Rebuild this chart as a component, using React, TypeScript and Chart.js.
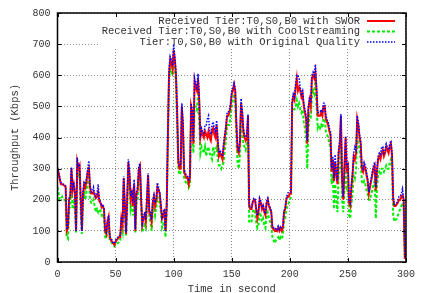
import React, { useEffect, useRef } from 'react';
import { Chart, registerables } from 'chart.js';
Chart.register(...registerables);

// Time axis: seconds 0..299
const xTicks = [0, 50, 100, 150, 200, 250, 300];
const yTicks = [0, 100, 200, 300, 400, 500, 600, 700, 800];

const legendLabels = [
  'Received Tier:T0,S0,B0 with SWOR',
  'Received Tier:T0,S0,B0 with CoolStreaming',
  'Tier:T0,S0,B0 with Original Quality',
];

const swor = [
  300,285,265,250,250,248,245,240,100,110,
  200,210,300,230,250,220,100,320,300,310,
  200,100,220,250,240,260,290,300,240,220,
  220,225,215,205,210,225,195,190,175,180,
  170,100,90,130,145,80,70,65,60,55,
  65,70,75,80,80,140,120,270,180,90,
  200,320,280,200,220,180,250,100,220,230,
  300,310,200,120,140,150,130,200,280,160,
  150,130,190,210,180,200,240,230,220,180,
  140,150,160,100,180,400,600,650,640,620,
  680,650,600,480,320,300,300,500,440,290,
  280,270,270,250,270,500,480,380,580,560,
  550,590,520,400,420,410,400,420,410,400,
  420,400,390,420,430,410,400,440,380,340,
  350,340,330,370,400,430,470,470,480,500,
  540,550,570,550,440,360,350,380,510,480,
  420,400,390,400,470,180,170,170,190,200,
  200,170,140,160,200,190,170,180,160,150,
  190,200,180,170,160,110,105,100,105,100,
  110,100,110,100,110,160,170,200,210,210,
  220,220,510,530,520,560,590,550,560,550,
  530,540,500,480,460,380,490,520,500,590,
  600,590,610,550,470,470,470,480,470,500,
  500,460,450,440,420,410,290,330,260,320,
  280,250,350,380,470,260,200,300,400,300,
  310,190,180,240,280,340,330,350,460,440,
  400,380,300,290,310,300,280,260,220,240,
  260,280,300,310,230,290,330,340,330,350,
  360,340,350,370,360,350,370,380,340,200,
  180,180,185,190,200,200,210,215,200,10,
];

const coolStreaming = [
  240,220,200,205,210,200,200,195,80,75,
  170,180,280,170,200,160,95,300,280,290,
  160,90,200,220,200,230,260,280,200,190,
  190,200,180,160,170,160,170,165,150,155,
  140,80,75,100,120,70,65,60,55,50,
  55,60,60,65,70,120,100,250,160,85,
  180,300,250,170,190,150,220,95,190,200,
  280,290,170,95,110,120,110,170,260,140,
  130,100,160,180,150,175,210,200,190,160,
  110,120,130,80,150,380,580,620,610,600,
  640,620,570,440,300,280,290,480,400,270,
  260,250,255,240,250,470,420,350,500,500,
  490,540,450,350,370,360,350,370,340,360,
  370,350,340,330,370,350,360,370,330,310,
  310,300,310,320,360,390,440,440,440,470,
  500,520,540,510,400,320,300,340,460,430,
  380,370,360,380,440,130,125,130,160,170,
  160,130,110,120,160,150,130,140,120,110,
  150,160,140,130,120,80,70,60,70,75,
  80,70,80,75,85,130,140,170,180,190,
  200,210,480,490,490,500,520,500,510,490,
  480,490,450,430,400,300,430,470,460,530,
  550,540,580,500,430,440,430,440,430,460,
  460,420,410,400,380,370,250,280,170,250,
  200,160,280,300,400,200,160,230,320,240,
  250,150,140,190,220,280,270,300,400,380,
  360,330,260,250,260,250,230,220,200,200,
  220,230,250,260,140,240,280,290,280,300,
  300,290,300,310,300,300,320,330,300,150,
  130,135,140,150,160,170,180,190,170,20,
];

const original = [
  305,290,270,255,252,250,248,245,105,115,
  205,215,305,240,255,225,100,335,310,315,
  205,100,230,260,250,270,300,325,250,225,
  225,240,220,210,220,250,200,195,180,185,
  175,100,95,130,150,85,75,70,60,60,
  70,75,80,85,85,145,125,275,185,95,
  205,330,290,210,230,190,265,105,230,240,
  310,315,210,125,145,160,135,210,285,165,
  160,135,200,215,190,205,255,240,225,185,
  145,160,170,100,190,420,620,660,650,630,
  700,660,610,490,330,310,310,510,450,300,
  285,280,275,260,280,510,490,390,590,570,
  560,605,530,410,430,420,410,440,440,460,
  470,420,410,440,450,430,420,455,400,350,
  360,350,340,380,410,440,480,480,490,510,
  550,560,575,560,450,370,360,390,525,490,
  430,410,400,410,475,185,175,175,195,205,
  205,175,150,165,205,195,175,185,165,155,
  195,205,185,175,165,115,110,105,110,105,
  115,105,115,110,115,165,175,205,220,225,
  225,225,520,540,530,570,600,600,590,560,
  540,550,510,490,470,390,500,530,510,600,
  610,600,635,560,480,480,480,490,480,510,
  510,470,460,450,430,420,300,340,270,345,
  290,260,360,390,475,270,210,310,405,310,
  320,200,190,250,290,350,370,360,470,450,
  410,390,310,300,320,310,290,270,225,250,
  270,290,310,320,240,300,340,350,345,370,
  370,350,360,380,370,360,380,390,350,205,
  185,185,190,200,210,210,220,235,200,15,
];

const FONT = "'Liberation Mono', 'DejaVu Sans Mono', monospace";
const TEXT = '#333';

const styles = [
  { color: '#ff0000', width: 2, dash: [] as number[] },
  { color: '#00ee00', width: 2, dash: [3, 2] },
  { color: '#0000ff', width: 1.5, dash: [1.5, 1.5] },
];

const gnuplotPlugin = {
  id: 'gnuplotDecor',
  beforeDatasetsDraw(chart: any) {
    const { ctx, chartArea } = chart;
    ctx.save();
    // key box (white) erasing grid lines
    ctx.fillStyle = '#ffffff';
    ctx.fillRect(100, chartArea.top + 1, chartArea.right - 101, 47 - chartArea.top - 1);
    ctx.font = `10.5px ${FONT}`;
    ctx.fillStyle = TEXT;
    ctx.textAlign = 'right';
    ctx.textBaseline = 'middle';
    const rows = [21, 31.5, 42];
    legendLabels.forEach((t, i) => {
      ctx.fillText(t, 360, rows[i]);
      const s = styles[i];
      ctx.beginPath();
      ctx.strokeStyle = s.color;
      ctx.lineWidth = s.width;
      ctx.setLineDash(s.dash);
      ctx.moveTo(367, rows[i]);
      ctx.lineTo(395, rows[i]);
      ctx.stroke();
    });
    ctx.restore();
  },
  afterDraw(chart: any) {
    const { ctx, chartArea, scales } = chart;
    const { left, right, top, bottom } = chartArea;
    ctx.save();
    ctx.strokeStyle = '#000';
    ctx.lineWidth = 1;
    ctx.setLineDash([]);
    ctx.beginPath();
    const tl = 4;
    xTicks.forEach((v) => {
      const px = Math.round(scales.x.getPixelForValue(v)) + 0.5;
      ctx.moveTo(px, bottom);
      ctx.lineTo(px, bottom - tl);
      ctx.moveTo(px, top);
      ctx.lineTo(px, top + tl);
    });
    yTicks.forEach((v) => {
      const py = Math.round(scales.y.getPixelForValue(v)) + 0.5;
      ctx.moveTo(left, py);
      ctx.lineTo(left + tl, py);
      ctx.moveTo(right, py);
      ctx.lineTo(right - tl, py);
    });
    ctx.stroke();
    ctx.lineWidth = 1.5;
    ctx.strokeRect(left, top, right - left, bottom - top);
    ctx.restore();
  },
};

export default function App() {
  const ref = useRef<HTMLCanvasElement>(null);
  useEffect(() => {
    document.body.style.margin = '0';
    const series = [swor, coolStreaming, original];
    const orders = [1, 2, 0];
    const chart = new Chart(ref.current as HTMLCanvasElement, {
      type: 'line',
      data: {
        datasets: series.map((arr, i) => ({
          label: legendLabels[i],
          data: arr.map((v, t) => ({ x: t, y: v })),
          borderColor: styles[i].color,
          borderWidth: styles[i].width,
          borderDash: styles[i].dash,
          pointRadius: 0,
          tension: 0,
          fill: false,
          order: orders[i],
        })),
      },
      options: {
        responsive: false,
        animation: false,
        layout: { padding: { left: 0, right: 13, top: 12, bottom: 0 } },
        plugins: { legend: { display: false }, tooltip: { enabled: false } },
        scales: {
          x: {
            type: 'linear',
            min: 0,
            max: 300,
            afterFit: (s: any) => { s.height = 31; },
            afterBuildTicks: (s: any) => { s.ticks = xTicks.map((v) => ({ value: v })); },
            ticks: { font: { family: FONT, size: 10 }, color: TEXT, padding: 6, maxRotation: 0 },
            grid: { color: '#888', drawTicks: false, lineWidth: 1 },
            border: { display: false, dash: [1, 2] },
            title: {
              display: true,
              text: 'Time in second',
              font: { family: FONT, size: 10.5, lineHeight: 0.8 },
              color: TEXT,
              padding: { top: 0, bottom: 0 },
            },
          },
          y: {
            type: 'linear',
            min: 0,
            max: 800,
            afterFit: (s: any) => { s.width = 57.5; },
            afterBuildTicks: (s: any) => { s.ticks = yTicks.map((v) => ({ value: v })); },
            ticks: { font: { family: FONT, size: 10 }, color: TEXT, padding: 7 },
            grid: { color: '#888', drawTicks: false, lineWidth: 1 },
            border: { display: false, dash: [1, 2] },
            title: {
              display: true,
              text: 'Throughput (Kbps)',
              font: { family: FONT, size: 10.5, lineHeight: 1.2 },
              color: TEXT,
              padding: { top: 9, bottom: 0 },
            },
          },
        },
      },
      plugins: [gnuplotPlugin],
    });
    return () => chart.destroy();
  }, []);
  return (
    <div style={{ width: 421, height: 293 }}>
      <canvas ref={ref} width={421} height={293} style={{ width: 421, height: 293 }} />
    </div>
  );
}
